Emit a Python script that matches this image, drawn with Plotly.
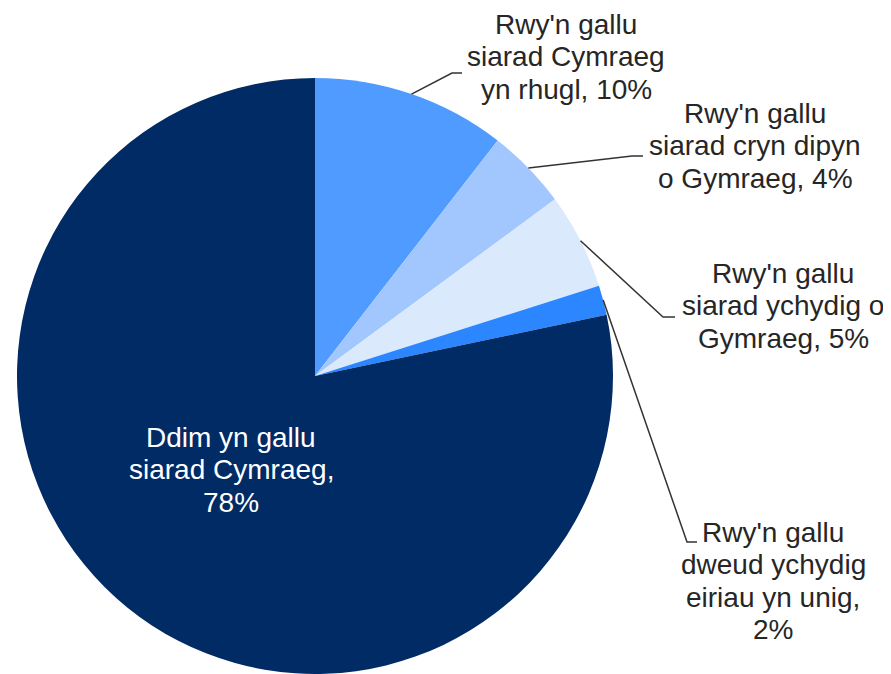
import math
import plotly.graph_objects as go

# ---- data ----
categories = [
    "Rwy'n gallu siarad Cymraeg yn rhugl",
    "Rwy'n gallu siarad cryn dipyn o Gymraeg",
    "Rwy'n gallu siarad ychydig o Gymraeg",
    "Rwy'n gallu dweud ychydig eiriau yn unig",
    "Ddim yn gallu siarad Cymraeg",
]
shares = [10.5, 4.4, 5.2, 1.6, 78.3]
pct_labels = ["10%", "4%", "5%", "2%", "78%"]
label_lines = [
    ["Rwy'n gallu", "siarad Cymraeg", "yn rhugl, " + pct_labels[0]],
    ["Rwy'n gallu", "siarad cryn dipyn", "o Gymraeg, " + pct_labels[1]],
    ["Rwy'n gallu", "siarad ychydig o", "Gymraeg, " + pct_labels[2]],
    ["Rwy'n gallu", "dweud ychydig", "eiriau yn unig,", pct_labels[3]],
    ["Ddim yn gallu", "siarad Cymraeg,", pct_labels[4]],
]
colors = ["#4f9bff", "#a2c7ff", "#dbe9fd", "#2b86ff", "#002b65"]

# ---- layout (pixels in the 891x674 window; page body has an 8px margin) ----
WIN_W, WIN_H = 891, 674
OFF = 8
W, H = WIN_W - OFF, WIN_H - OFF
CX, CY, R = 315, 376, 298
FONT = "Liberation Sans, Arial, sans-serif"
FS = 28
LINE = 32.5
label_pos = [(566, 34), (755, 123), (783, 283), (773, 542), (231, 447)]
label_col = ["#262626", "#262626", "#262626", "#262626", "#ffffff"]
elbows = [(452, 73, 462), (632, 156, 643), (663, 317, 675), (687, 542, 697)]


def px(x):
    return (x - OFF) / W


def py(y):
    return 1 - (y - OFF) / H


fig = go.Figure(
    go.Pie(
        labels=categories,
        values=shares,
        sort=False,
        direction="clockwise",
        rotation=0,
        marker=dict(colors=colors, line=dict(width=0)),
        textinfo="none",
        hoverinfo="label+percent",
        showlegend=False,
        domain=dict(x=[px(CX - R), px(CX + R)], y=[py(CY + R), py(CY - R)]),
    )
)

annotations = []
for lines, (cx, by), col in zip(label_lines, label_pos, label_col):
    for i, t in enumerate(lines):
        base = by + i * LINE
        annotations.append(
            dict(
                x=px(cx), y=py(base - 0.35 * FS), xref="paper", yref="paper",
                text=t, showarrow=False, xanchor="center", yanchor="middle",
                font=dict(family=FONT, size=FS, color=col),
            )
        )

total = sum(shares)
shapes = []
cum = 0.0
for i, v in enumerate(shares):
    mid = (cum + v / 2) / total
    cum += v
    if i >= len(elbows):
        continue
    th = 2 * math.pi * mid
    sx = CX + R * math.sin(th)
    sy = CY - R * math.cos(th)
    ex, ey, hx = elbows[i]
    path = "M {:.5f},{:.5f} L {:.5f},{:.5f} L {:.5f},{:.5f}".format(
        px(sx), py(sy), px(ex), py(ey), px(hx), py(ey)
    )
    shapes.append(
        dict(type="path", path=path, xref="paper", yref="paper",
             line=dict(color="#333333", width=1.5))
    )

fig.update_layout(
    width=W, height=H,
    margin=dict(l=0, r=0, t=0, b=0),
    paper_bgcolor="white", plot_bgcolor="white",
    annotations=annotations, shapes=shapes,
)

fig.write_html("out.html")
